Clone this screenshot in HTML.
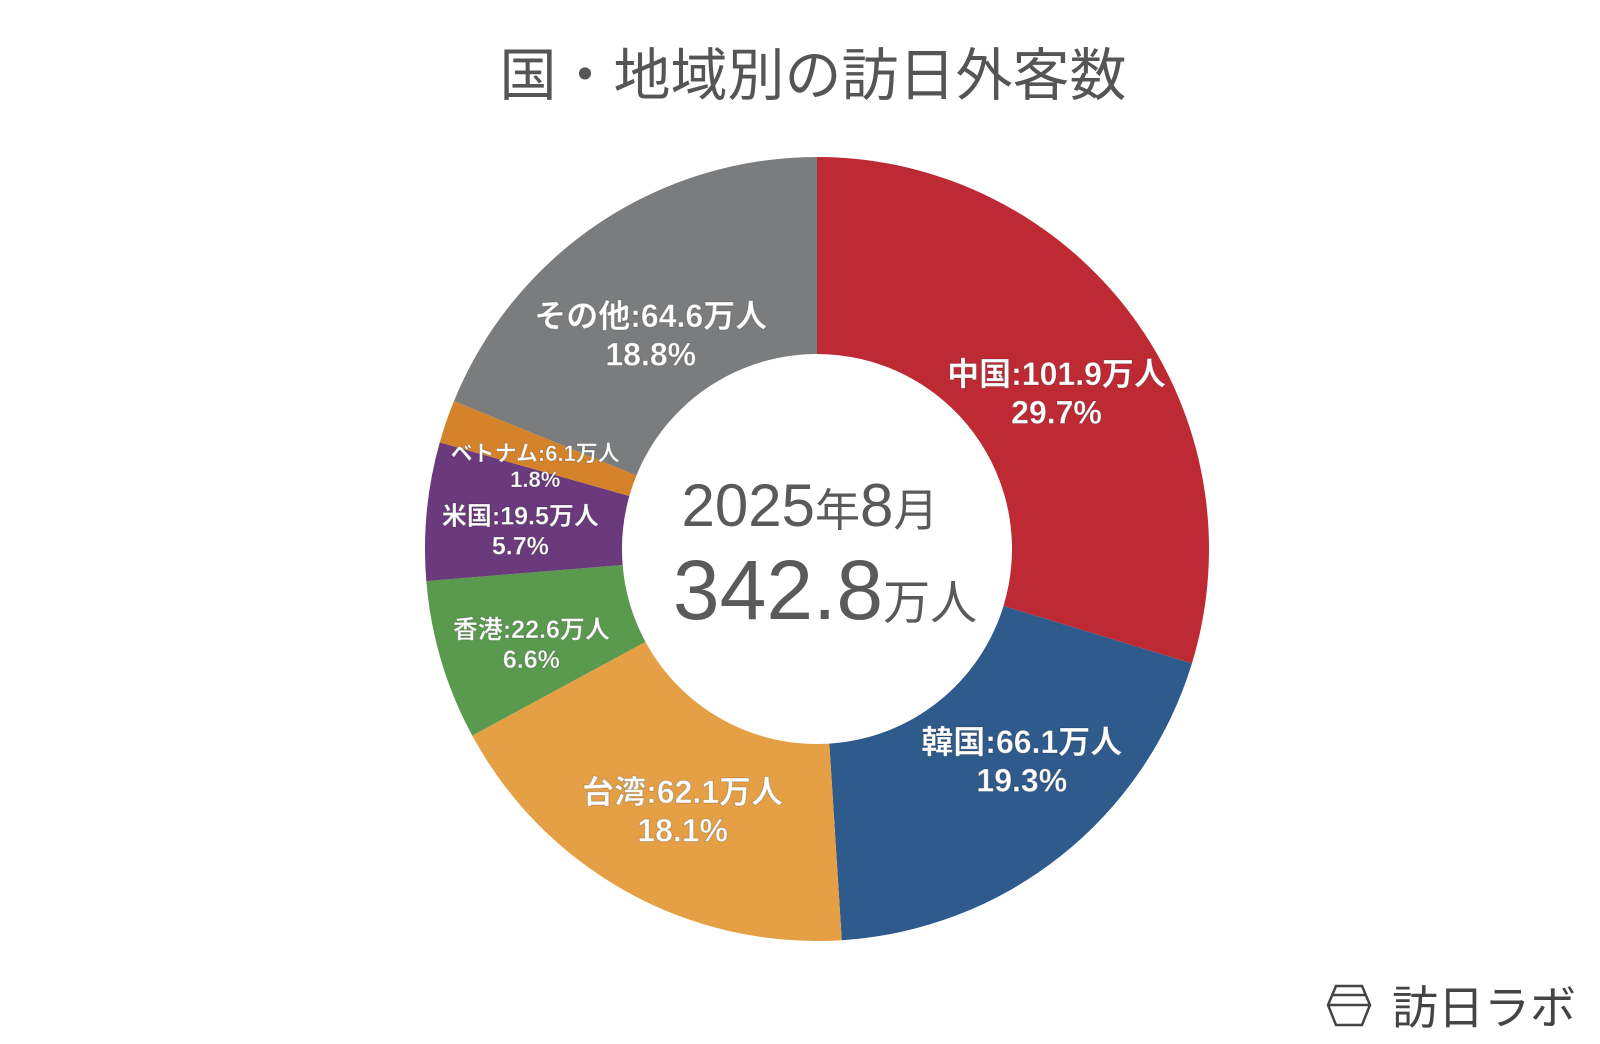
<!DOCTYPE html>
<html><head><meta charset="utf-8"><style>
body{margin:0;background:#fff;width:1600px;height:1044px;overflow:hidden}
svg{display:block}
text{font-family:"Liberation Sans","Noto Sans CJK JP",sans-serif}
</style></head><body>
<svg id="c" width="1600" height="1044" viewBox="0 0 1600 1044">
<text x="813" y="95" text-anchor="middle" font-size="57" fill="#555">国・地域別の訪日外客数</text>
<g id="slices"></g>
<g id="labels"></g>
<text x="810" y="526" text-anchor="middle" font-size="60" fill="#5a5a5a">2025<tspan font-size="45">年</tspan>8<tspan font-size="45">月</tspan></text>
<text x="825" y="619" text-anchor="middle" font-size="84" fill="#5a5a5a">342.8<tspan font-size="47">万人</tspan></text>
<g>
<path d="M1336,986 L1362,986 L1370,1005 L1362,1025 L1336,1025 L1328,1005 Z M1328,1005 L1370,1005 M1332,995 L1366,995" fill="none" stroke="#444" stroke-width="2.5"/>
<text x="1392" y="1024" font-size="46" fill="#444">訪日ラボ</text>
</g>
</svg>
<script>
const categories=["中国","韓国","台湾","香港","米国","ベトナム","その他"];
const values=[101.9,66.1,62.1,22.6,19.5,6.1,64.6];
const percents=["29.7%","19.3%","18.1%","6.6%","5.7%","1.8%","18.8%"];
const colors=["#BE2A33","#2E5A8C","#E5A045","#5A9A4E","#6B3A7C","#D4832A","#7A7C7D"];
const fontSizes=[32,32,32,25,25,22,32];
const labelDx=[0,20,10,0,0,0,0];
const labelDy=[0,-43,-20,-10,-10,-6,12];
const cx=817,cy=549,R=392,r0=195,LR=298;
const NS="http://www.w3.org/2000/svg";
const total=values.reduce((a,b)=>a+b,0);
function pt(a,rad){return [cx+rad*Math.sin(a),cy-rad*Math.cos(a)];}
let acc=0;
const sg=document.getElementById('slices'),lg=document.getElementById('labels');
values.forEach((v,i)=>{
 const a0=acc/total*2*Math.PI;acc+=v;const a1=acc/total*2*Math.PI;
 const large=(a1-a0)>Math.PI?1:0;
 const [x0,y0]=pt(a0,R),[x1,y1]=pt(a1,R),[x2,y2]=pt(a1,r0),[x3,y3]=pt(a0,r0);
 const p=document.createElementNS(NS,'path');
 p.setAttribute('d',`M${x0},${y0}A${R},${R} 0 ${large} 1 ${x1},${y1}L${x2},${y2}A${r0},${r0} 0 ${large} 0 ${x3},${y3}Z`);
 p.setAttribute('fill',colors[i]);
 
 
 sg.appendChild(p);
 let [lx,ly]=pt((a0+a1)/2,LR);
 lx+=labelDx[i];ly+=labelDy[i];
 const fs=fontSizes[i];
 const t=document.createElementNS(NS,'text');
 t.setAttribute('text-anchor','middle');
 t.setAttribute('font-size',fs);
 t.setAttribute('font-weight','bold');
 t.setAttribute('fill','#fff');
 t.setAttribute('stroke','rgba(0,0,0,0.2)');
 t.setAttribute('stroke-width','1');
 
 
 const s1=document.createElementNS(NS,'tspan');
 s1.setAttribute('x',lx);s1.setAttribute('y',ly+18-fs*0.15);
 s1.textContent=categories[i]+':'+values[i].toFixed(1)+'万人';
 const s2=document.createElementNS(NS,'tspan');
 s2.setAttribute('x',lx);s2.setAttribute('y',ly+18+fs*1.05);
 s2.textContent=percents[i];
 t.appendChild(s1);t.appendChild(s2);lg.appendChild(t);
});
</script>
</body></html>
